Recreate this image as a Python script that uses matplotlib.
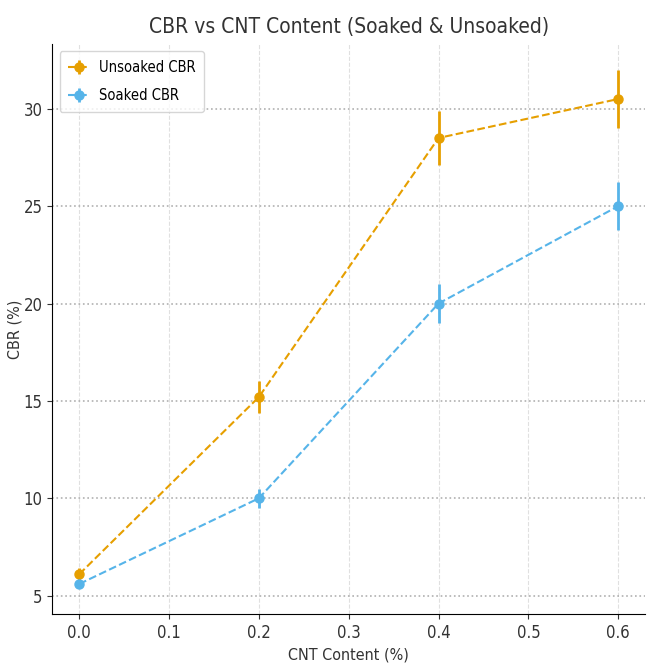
import matplotlib
matplotlib.use("Agg")
import matplotlib.pyplot as plt

cnt = [0.0, 0.2, 0.4, 0.6]
unsoaked = [6.1, 15.2, 28.5, 30.5]
unsoaked_err = [0.3, 0.8, 1.4, 1.5]
soaked = [5.6, 10.0, 20.0, 25.0]
soaked_err = [0.2, 0.5, 1.0, 1.25]

plt.rcParams['font.family'] = ['DejaVu Sans']
plt.rcParams['font.stretch'] = 'condensed'
fig = plt.figure(figsize=(6.53, 6.65), dpi=100)
ax = fig.add_axes([0.080, 0.077, 0.908, 0.857])

ax.errorbar(cnt, unsoaked, yerr=unsoaked_err, fmt='o--', color='#E69F00',
            label='Unsoaked CBR', markersize=6.5, linewidth=1.5, elinewidth=2, capsize=0)
ax.errorbar(cnt, soaked, yerr=soaked_err, fmt='o--', color='#56B4E9',
            label='Soaked CBR', markersize=6.5, linewidth=1.5, elinewidth=2, capsize=0)

ax.yaxis.grid(True, linestyle=':', color='#b0b0b0', linewidth=1.2)
ax.xaxis.grid(True, linestyle='--', color='#e0e0e0', linewidth=0.8)
ax.set_axisbelow(True)
for s in ['top', 'right']:
    ax.spines[s].set_visible(False)
ax.set_xticks([0.0, 0.1, 0.2, 0.3, 0.4, 0.5, 0.6])
ax.set_yticks([5, 10, 15, 20, 25, 30])
ax.tick_params(labelsize=12, colors='#333333')

ax.set_title('CBR vs CNT Content (Soaked & Unsoaked)', fontsize=15, color='#333333', pad=8)
ax.set_xlabel('CNT Content (%)', fontsize=11.5, color='#333333')
ax.set_ylabel('CBR (%)', fontsize=11.5, color='#333333')
ax.yaxis.set_label_coords(-0.05, 0.5)
ax.legend(loc='upper left', fontsize=10.5, fancybox=True, framealpha=0.8,
          handlelength=1.5, labelspacing=0.9, handletextpad=0.6, borderpad=0.6)

fig.savefig('out.png', dpi=100)
